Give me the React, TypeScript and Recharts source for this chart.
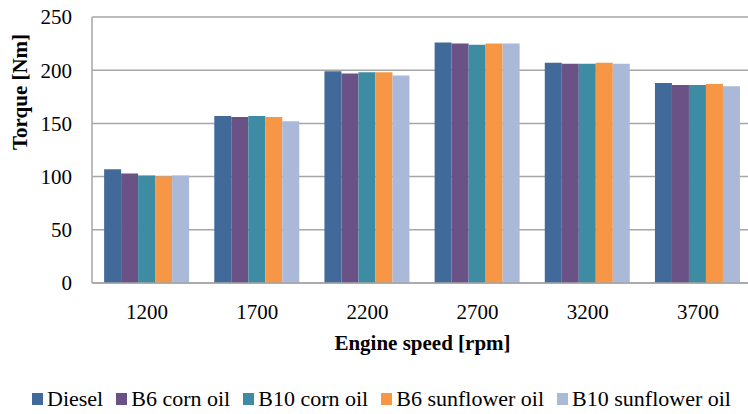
import { BarChart, Bar, XAxis, YAxis, CartesianGrid, Legend } from 'recharts';

const speeds = ['1200', '1700', '2200', '2700', '3200', '3700'];
const diesel = [107, 157, 199, 226, 207, 188];
const b6Corn = [103, 156, 197, 225, 206, 186];
const b10Corn = [101, 157, 198, 224, 206, 186];
const b6Sunflower = [100, 156, 198, 225, 207, 187];
const b10Sunflower = [101, 152, 195, 225, 206, 185];
const yTicks = [0, 50, 100, 150, 200, 250];

const series = [
  { key: 'diesel', name: 'Diesel', color: '#416A9B' },
  { key: 'b6Corn', name: 'B6 corn oil', color: '#6A5186' },
  { key: 'b10Corn', name: 'B10 corn oil', color: '#3D8CA3' },
  { key: 'b6Sunflower', name: 'B6 sunflower oil', color: '#F79746' },
  { key: 'b10Sunflower', name: 'B10 sunflower oil', color: '#AAB9D7' },
];

const data = speeds.map((s, i) => ({
  speed: s,
  diesel: diesel[i],
  b6Corn: b6Corn[i],
  b10Corn: b10Corn[i],
  b6Sunflower: b6Sunflower[i],
  b10Sunflower: b10Sunflower[i],
}));

const font = "'Liberation Serif', 'DejaVu Serif', 'Times New Roman', Times, serif";

function LegendBox() {
  return (
    <div style={{ display: 'flex', alignItems: 'center', paddingLeft: 32, fontFamily: font, fontSize: 22, color: '#000', lineHeight: '30px' }}>
      {series.map(s => (
        <div key={s.key} style={{ display: 'flex', alignItems: 'center', marginRight: 13 }}>
          <span style={{ width: 11, height: 12, background: s.color, marginRight: 4, display: 'inline-block' }} />
          <span>{s.name}</span>
        </div>
      ))}
    </div>
  );
}

export default function App() {
  return (
    <div style={{ position: 'fixed', left: 0, top: 0, width: 748, height: 414, overflow: 'hidden', background: '#fff', fontFamily: font }}>
      <BarChart
        width={760}
        height={414}
        data={data}
        margin={{ top: 17, right: 7, bottom: 0, left: 0 }}
        barCategoryGap="11%"
        barGap={0}
        style={{ fontFamily: font }}
      >
        <CartesianGrid vertical={false} stroke="#A6A6A6" strokeWidth={1.5} />
        <XAxis
          dataKey="speed"
          height={101}
          axisLine={{ stroke: '#A6A6A6', strokeWidth: 1.5 }}
          tickLine={false}
          tickSize={0}
          tickMargin={21}
          tick={{ fill: '#000', fontSize: 21, fontFamily: font }}
          label={{ value: 'Engine speed [rpm]', position: 'insideTop', offset: 0, dy: 52, fill: '#000', fontSize: 21, fontWeight: 'bold', fontFamily: font }}
        />
        <YAxis
          width={92}
          domain={[0, 250]}
          ticks={yTicks}
          interval={0}
          axisLine={{ stroke: '#A6A6A6', strokeWidth: 1.5 }}
          tickLine={false}
          tickSize={0}
          tickMargin={20}
          tick={{ fill: '#000', fontSize: 21, fontFamily: font }}
          label={{ value: 'Torque [Nm]', angle: -90, position: 'insideLeft', offset: 0, dx: 20, dy: 0, fill: '#000', fontSize: 21, fontWeight: 'bold', fontFamily: font }}
        />
        <Legend verticalAlign="bottom" content={<LegendBox />} wrapperStyle={{ height: 30, left: 0, width: 748 }} />
        {series.map(s => (
          <Bar key={s.key} dataKey={s.key} name={s.name} fill={s.color} isAnimationActive={false} />
        ))}
      </BarChart>
    </div>
  );
}
